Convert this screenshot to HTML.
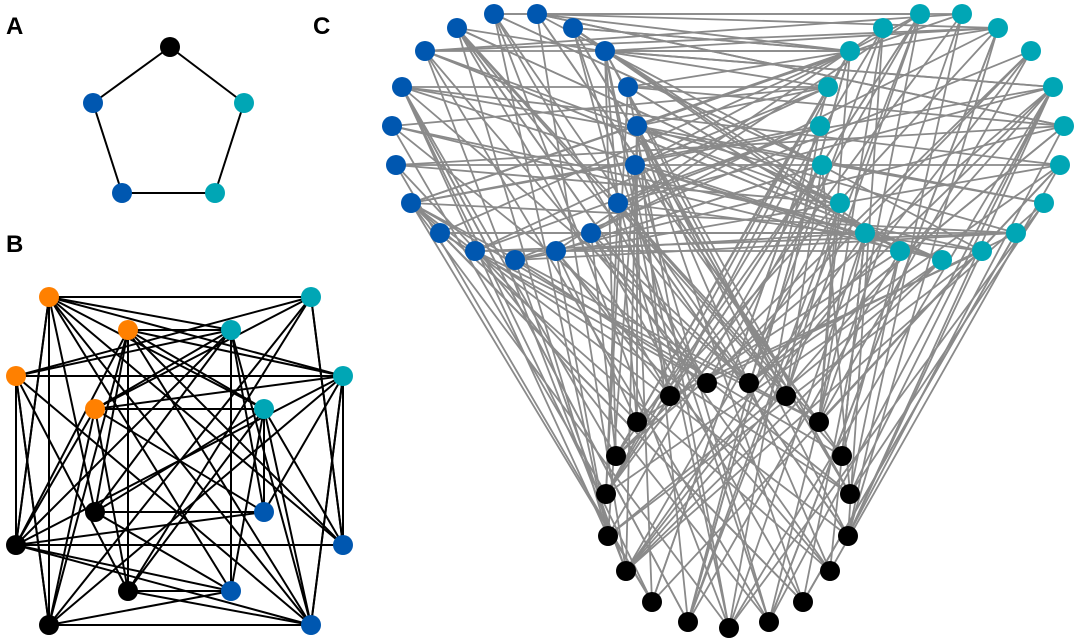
<!DOCTYPE html>
<html><head><meta charset="utf-8"><style>
html,body{margin:0;padding:0;background:#fff;width:1080px;height:640px;overflow:hidden}
svg{display:block}
text{font-family:"Liberation Sans",sans-serif;font-weight:bold;font-size:24px}
</style></head><body>
<svg id="s" width="1080" height="640" viewBox="0 0 1080 640" xmlns="http://www.w3.org/2000/svg">
<text x="6" y="34">A</text>
<text x="6" y="252">B</text>
<text x="313" y="34">C</text>
<g id="edges"></g><g id="nodes"></g>
</svg>
<script>
var NS="http://www.w3.org/2000/svg";
var E=document.getElementById("edges"),N=document.getElementById("nodes");
function line(a,b,c,w){var l=document.createElementNS(NS,"line");l.setAttribute("x1",a[0]);l.setAttribute("y1",a[1]);l.setAttribute("x2",b[0]);l.setAttribute("y2",b[1]);l.setAttribute("stroke",c);l.setAttribute("stroke-width",w);E.appendChild(l);}
function node(p,c,r){var e=document.createElementNS(NS,"circle");e.setAttribute("cx",p[0]);e.setAttribute("cy",p[1]);e.setAttribute("r",r);e.setAttribute("fill",c);N.appendChild(e);}
var BK="#000",BL="#0057b0",TL="#00a6b5",OR="#ff8000";
var A=[[170,47],[244,103],[215,193],[122,193],[93,103]],AC=[BK,TL,TL,BL,BL];
for(var i=0;i<5;i++)line(A[i],A[(i+1)%5],"#000",2);
A.forEach(function(p,i){node(p,AC[i],10)});
var seed=11;function rnd(){seed=(seed*16807)%2147483647;return seed/2147483647;}
var Bg=[[[49,297],[128,330],[16,376],[95,409]],[[311,297],[231,330],[343,376],[264,409]],[[16,545],[95,512],[49,625],[128,591]],[[264,512],[343,545],[231,591],[311,625]]];
var BC=[OR,TL,BK,BL];
for(var g=0;g<4;g++)for(var h=g+1;h<4;h++)for(var i=0;i<4;i++)for(var j=0;j<4;j++){if(rnd()<0.62)line(Bg[g][i],Bg[h][j],"#000",2);}
line([49,297],[311,297],"#000",2);line([49,625],[311,625],"#000",2);line([16,376],[16,545],"#000",2);line([343,376],[343,545],"#000",2);
line([128,330],[128,591],"#000",2);line([95,512],[264,512],"#000",2);line([95,409],[264,409],"#000",2);
line([49,297],[16,545],"#000",2);line([311,297],[343,545],"#000",2);line([16,376],[49,625],"#000",2);line([343,376],[311,625],"#000",2);
for(g=0;g<4;g++)Bg[g].forEach(function(p){node(p,BC[g],10)});
var Cb=[[494,14],[537,14],[573,28],[605,51],[628,87],[637,126],[635,165],[618,203],[591,233],[556,251],[515,260],[475,251],[440,233],[411,203],[396,165],[392,126],[402,87],[425,51],[457,28]];
var Ct=[[920,14],[962,14],[998,28],[1031,51],[1053,87],[1064,126],[1060,165],[1044,203],[1016,233],[982,251],[942,260],[900,251],[865,233],[840,203],[822,165],[820,126],[828,87],[850,51],[883,28]];
var Ck=[[707,383],[749,383],[786,396],[819,422],[842,456],[850,494],[848,536],[830,571],[803,602],[769,622],[729,628],[688,622],[652,602],[626,571],[608,536],[606,494],[616,456],[637,422],[670,396]];
var G="#8a8a8a";seed=12345;
function pick(a){return a[Math.floor(rnd()*a.length)];}
for(var k=0;k<19;k++){
 for(var m=0;m<3;m++){line(Cb[k],pick(Ct),G,1.8);line(Ct[k],pick(Ck),G,1.8);line(Ck[k],pick(Cb),G,1.8);}
 line(Cb[k],pick(Ck),G,1.8);line(Ct[k],pick(Cb),G,1.8);line(Ck[k],pick(Ct),G,1.8);
}
Cb.forEach(function(p){node(p,BL,10)});Ct.forEach(function(p){node(p,TL,10)});Ck.forEach(function(p){node(p,BK,10)});
</script>
</body></html>
